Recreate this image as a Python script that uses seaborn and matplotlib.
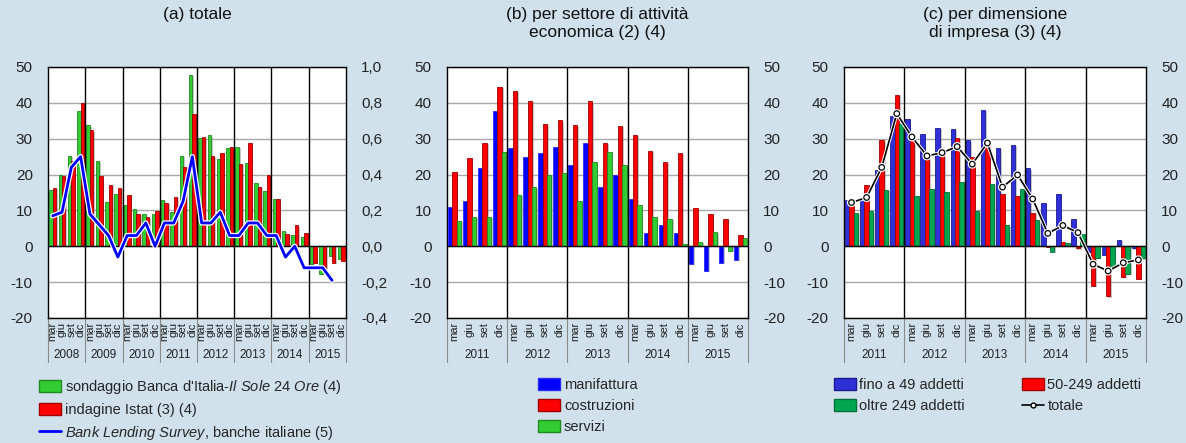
import numpy as np
import pandas as pd
import matplotlib
matplotlib.use("Agg")
import matplotlib.pyplot as plt
import matplotlib.patheffects as pe
import matplotlib.transforms as mtransforms
from matplotlib.patches import Patch
from matplotlib.lines import Line2D
import seaborn as sns

# ---------------------------------------------------------------- data
months = ["mar", "giu", "set", "dic"]
years_a = ["2008", "2009", "2010", "2011", "2012", "2013", "2014", "2015"]
years_bc = ["2011", "2012", "2013", "2014", "2015"]

# (a) totale
sondaggio = [15.7, 19.8, 25.3, 37.8, 33.7, 23.9, 12.3, 14.6,
             11.4, 10.3, 8.9, 8.9, 12.8, 9.6, 25.3, 47.8,
             30.1, 30.9, 24.2, 27.3, 27.7, 23.3, 17.6, 15.3,
             13.2, 4.2, 3.2, 2.6, -4.9, -7.8, -2.7, -3.5]
istat = [16.3, 19.5, 23.7, 39.9, 32.3, 19.5, 17.1, 16.3,
         14.2, 8.9, 8.1, 9.8, 12.1, 13.7, 22.0, 36.8,
         30.4, 25.1, 25.9, 27.7, 22.9, 28.8, 16.5, 19.9,
         13.2, 3.5, 5.8, 3.7, -4.7, -6.1, -4.7, -4.0]
bls = [0.17, 0.19, 0.44, 0.50, 0.18, 0.12, 0.06, -0.06,
       0.06, 0.06, 0.13, 0.00, 0.13, 0.13, 0.25, 0.50,
       0.13, 0.13, 0.19, 0.06, 0.06, 0.13, 0.13, 0.06,
       0.06, -0.06, 0.00, -0.12, -0.12, -0.12, -0.19, np.nan]

# (b) per settore di attività economica
manifattura = [10.9, 12.6, 21.8, 37.7, 27.5, 25.0, 26.0, 27.7,
               22.7, 28.7, 16.4, 19.9, 13.1, 3.6, 5.8, 3.7,
               -5.0, -6.8, -4.6, -3.8]
costruzioni = [20.6, 24.5, 28.9, 44.5, 43.4, 40.6, 34.2, 35.1,
               33.7, 40.4, 28.9, 33.5, 31.0, 26.5, 23.5, 26.0,
               10.6, 9.0, 7.6, 3.1]
servizi = [7.0, 8.3, 8.3, 26.2, 14.2, 16.4, 19.8, 20.4,
           12.5, 23.4, 26.4, 22.8, 11.4, 8.1, 7.5, 0.6,
           1.1, 3.9, -1.2, 2.3]

# (c) per dimensione di impresa
fino_49 = [12.9, 13.6, 21.4, 36.3, 35.4, 31.4, 33.1, 32.8,
           29.5, 38.1, 27.3, 28.2, 21.7, 12.0, 14.5, 7.6,
           -1.7, -2.5, 1.7, -0.6]
da_50_249 = [13.2, 17.0, 29.5, 42.3, 31.4, 25.7, 26.3, 30.1,
             25.0, 28.0, 14.7, 13.9, 9.2, -0.3, 1.1, -0.6,
             -11.1, -14.0, -8.6, -9.0]
oltre_249 = [9.2, 9.7, 15.7, 34.0, 13.9, 15.9, 15.0, 17.8,
             9.7, 17.5, 5.8, 16.1, 7.2, -1.7, 0.8, 3.3,
             -3.3, -5.5, -7.6, -3.4]
totale_dim = [12.2, 13.6, 22.0, 37.0, 30.5, 25.2, 26.1, 27.8,
              22.9, 28.8, 16.5, 19.9, 13.2, 3.6, 5.8, 3.8,
              -5.0, -6.9, -4.6, -3.8]

# ---------------------------------------------------------------- style
BG = "#d0e1eb"
GREEN, GREEN_E = "#33cc33", "#1f8a1f"
RED, RED_E = "#ff0000", "#a00000"
BLUE = "#0000ff"
C_BLUE, C_BLUE_E = "#3030d8", "#1a1a90"
C_GREEN, C_GREEN_E = "#00a650", "#007038"

sns.set_theme(style="white")
plt.rcParams["font.family"] = ["Liberation Sans", "DejaVu Sans"]
plt.rcParams["axes.unicode_minus"] = False
plt.rcParams["mathtext.fontset"] = "custom"
plt.rcParams["mathtext.rm"] = "Liberation Sans"
plt.rcParams["mathtext.it"] = "Liberation Sans:italic"

fig = plt.figure(figsize=(11.86, 4.43), dpi=100, facecolor=BG)

bottom, height = 0.2822, 0.5666
ax_a = fig.add_axes([0.0405, bottom, 0.2512, height])
ax_b = fig.add_axes([0.3769, bottom, 0.2538, height])
ax_c = fig.add_axes([0.7116, bottom, 0.2546, height])

shadow = [pe.SimplePatchShadow(offset=(1.2, -0.8), shadow_rgbFace="#9a9a9a", alpha=0.55),
          pe.Normal()]


def long_frame(years, series):
    periods = [f"{y} {m}" for y in years for m in months]
    rows = []
    for name, values in series.items():
        for p, v in zip(periods, values):
            rows.append({"periodo": p, "valore": v, "serie": name})
    return pd.DataFrame(rows), periods


def draw_bars(ax, years, series, faces, edges, width):
    df, periods = long_frame(years, series)
    names = list(series.keys())
    sns.barplot(data=df, x="periodo", y="valore", hue="serie",
                order=periods, hue_order=names,
                palette=dict(zip(names, faces)), saturation=1,
                width=width, legend=False, ax=ax, zorder=3)
    for cont, ec in zip(ax.containers, edges):
        for bar in cont:
            bar.set_edgecolor(ec)
            bar.set_linewidth(0.6)
            bar.set_path_effects(shadow)
    return periods


def frame_axes(ax, years, right_labels=True):
    n = 4 * len(years)
    ax.set_facecolor("white")
    ax.set_ylim(-20, 50)
    ax.set_xlim(-0.5, n - 0.5)
    ax.set_yticks(range(-20, 51, 10))
    ax.yaxis.grid(True, color="#a8a8a8", linewidth=1.0, zorder=0)
    ax.xaxis.grid(False)
    ax.set_axisbelow(True)
    ax.axhline(0, color="black", linewidth=1.0, zorder=4)
    for k in range(1, len(years)):
        ax.axvline(4 * k - 0.5, color="black", linewidth=1.0, zorder=4)
    for s in ax.spines.values():
        s.set_color("black")
        s.set_linewidth(1.0)
    ax.set_xlabel("")
    ax.set_ylabel("")
    ax.tick_params(axis="y", length=0, pad=11, labelsize=11, colors="#222222",
                   labelleft=True, labelright=right_labels)
    # month labels under each quarter
    ax.set_xticks(range(n))
    ax.set_xticklabels(months * len(years), rotation=90, fontsize=8, color="#222222")
    ax.tick_params(axis="x", which="major", length=0, pad=3)
    # small quarter separators on the bottom edge
    minor = [i + 0.5 for i in range(n - 1) if (i + 1) % 4 != 0]
    ax.set_xticks(minor, minor=True)
    ax.tick_params(axis="x", which="minor", direction="in", length=4, width=0.8,
                   color="#333333")
    trans = mtransforms.blended_transform_factory(ax.transData, ax.transAxes)
    for k in range(len(years) + 1):
        ax.plot([4 * k - 0.5, 4 * k - 0.5], [0, -0.175], transform=trans,
                color="#8a8a8a", linewidth=0.8, clip_on=False, zorder=1)
    for k, y in enumerate(years):
        ax.annotate(y, xy=(4 * k + 1.5, 0), xycoords=trans,
                    xytext=(0, -26.5), textcoords="offset points",
                    ha="center", va="center", fontsize=8.5, color="#222222")


# ---------------------------------------------------------------- (a)
draw_bars(ax_a, years_a,
          {"sondaggio": sondaggio, "istat": istat},
          [GREEN, RED], [GREEN_E, RED_E], width=0.74)
frame_axes(ax_a, years_a, right_labels=False)

ax_a2 = ax_a.twinx()
pos_a = np.arange(len(bls))
sns.lineplot(x=pos_a, y=bls, ax=ax_a2, color=BLUE, linewidth=2.0, zorder=6,
             path_effects=[pe.Stroke(linewidth=3.8, foreground="white"), pe.Normal()])
ax_a2.set_ylim(-0.4, 1.0)
ax_a2.set_xlim(-0.5, len(bls) - 0.5)
r_ticks = [-0.4, -0.2, 0.0, 0.2, 0.4, 0.6, 0.8, 1.0]
ax_a2.set_yticks(r_ticks)
ax_a2.set_yticklabels([f"{t:.1f}".replace(".", ",") for t in r_ticks])
ax_a2.tick_params(axis="y", length=0, pad=11, labelsize=11, colors="#222222")
ax_a2.grid(False)
for s in ax_a2.spines.values():
    s.set_visible(False)

# ---------------------------------------------------------------- (b)
draw_bars(ax_b, years_bc,
          {"manifattura": manifattura, "costruzioni": costruzioni, "servizi": servizi},
          [BLUE, RED, GREEN], ["#2a2aff", RED_E, GREEN_E], width=0.88)
frame_axes(ax_b, years_bc)

# ---------------------------------------------------------------- (c)
draw_bars(ax_c, years_bc,
          {"fino a 49": fino_49, "50-249": da_50_249, "oltre 249": oltre_249},
          [C_BLUE, RED, C_GREEN], [C_BLUE_E, RED_E, C_GREEN_E], width=0.88)
frame_axes(ax_c, years_bc)
pos_c = np.arange(len(totale_dim))
sns.lineplot(x=pos_c, y=totale_dim, ax=ax_c, color="black", linewidth=1.2,
             marker="o", markersize=4, markerfacecolor="white",
             markeredgecolor="black", markeredgewidth=0.9, zorder=7,
             path_effects=[pe.Stroke(linewidth=2.6, foreground="white"), pe.Normal()])
ax_c.set_xlim(-0.5, len(totale_dim) - 0.5)
ax_c.set_xlabel("")
ax_c.set_ylabel("")

# ---------------------------------------------------------------- titles
title_kw = dict(ha="center", va="top", fontsize=12.5, color="#111111", linespacing=1.25)
fig.text(0.1661, 0.985, "(a) totale", **title_kw)
fig.text(0.5038, 0.985, "(b) per settore di attività\neconomica (2) (4)", **title_kw)
fig.text(0.8389, 0.985, "(c) per dimensione\ndi impresa (3) (4)", **title_kw)

# ---------------------------------------------------------------- legends
leg_kw = dict(frameon=False, fontsize=10.5, handlelength=1.5, handleheight=0.9,
              handletextpad=0.25, labelspacing=0.48, borderaxespad=0, borderpad=0)

h_a = [Patch(facecolor=GREEN, edgecolor=GREEN_E),
       Patch(facecolor=RED, edgecolor=RED_E),
       Line2D([], [], color=BLUE, linewidth=2)]
l_a = [r"sondaggio Banca d'Italia-$\it{Il\ Sole\ 24\ Ore}$ (4)",
       "indagine Istat (3) (4)",
       r"$\it{Bank\ Lending\ Survey}$, banche italiane (5)"]
fig.legend(h_a, l_a, loc="upper left", bbox_to_anchor=(0.033, 0.147), **leg_kw)

h_b = [Patch(facecolor=BLUE, edgecolor="#2a2aff"),
       Patch(facecolor=RED, edgecolor=RED_E),
       Patch(facecolor=GREEN, edgecolor=GREEN_E)]
fig.legend(h_b, ["manifattura", "costruzioni", "servizi"], loc="upper left",
           bbox_to_anchor=(0.454, 0.147), **leg_kw)

h_c = [Patch(facecolor=C_BLUE, edgecolor=C_BLUE_E),
       Patch(facecolor=C_GREEN, edgecolor=C_GREEN_E),
       Patch(facecolor=RED, edgecolor=RED_E),
       Line2D([], [], color="black", linewidth=1.2, marker="o", markersize=3.5,
              markerfacecolor="white", markeredgecolor="black")]
fig.legend(h_c, ["fino a 49 addetti", "oltre 249 addetti", "50-249 addetti", "totale"],
           loc="upper left", bbox_to_anchor=(0.703, 0.147), ncol=2,
           columnspacing=3.9, **leg_kw)

fig.savefig("out.png", dpi=100, facecolor=BG)
